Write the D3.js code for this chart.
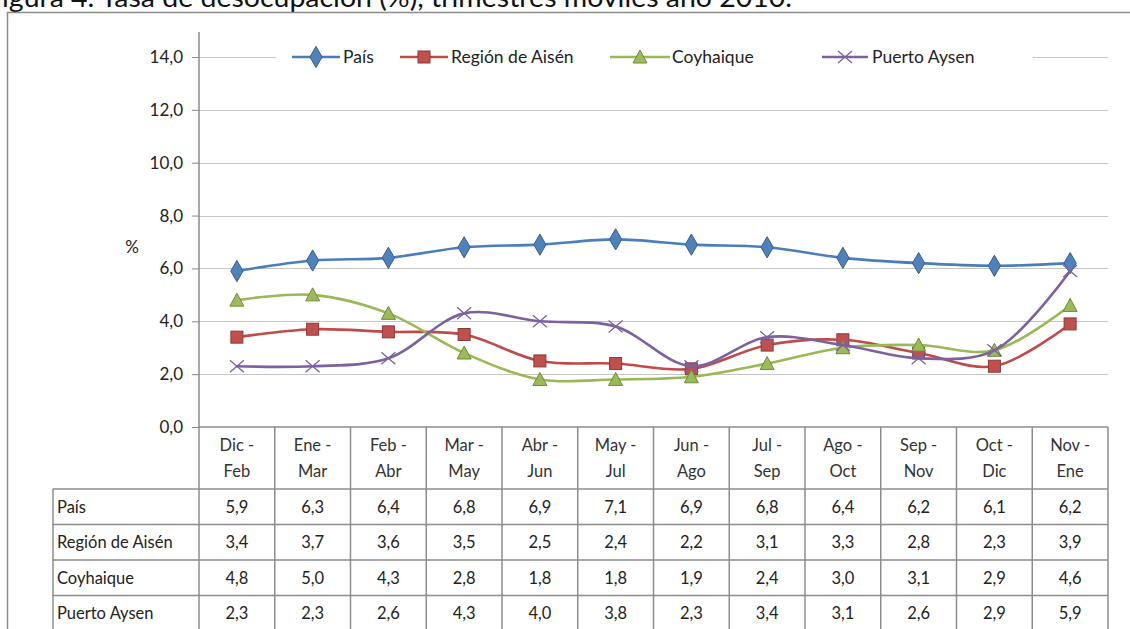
<!DOCTYPE html>
<html>
<head>
<meta charset="utf-8">
<script src="https://cdn.jsdelivr.net/npm/d3@7"></script>
<style>
  body { margin: 0; background: #fff; }
  svg { font-family: Lato, "Open Sans", sans-serif; }
</style>
</head>
<body>
<div id="chart"></div>
<script>
// Tasa de desocupacion, trimestres moviles 2010
var w = 1130, h = 629;

var categories = ["Dic - Feb", "Ene - Mar", "Feb - Abr", "Mar - May", "Abr - Jun", "May - Jul",
    "Jun - Ago", "Jul - Sep", "Ago - Oct", "Sep - Nov", "Oct - Dic", "Nov - Ene"];
var pais        = [5.9, 6.3, 6.4, 6.8, 6.9, 7.1, 6.9, 6.8, 6.4, 6.2, 6.1, 6.2];
var regionAisen = [3.4, 3.7, 3.6, 3.5, 2.5, 2.4, 2.2, 3.1, 3.3, 2.8, 2.3, 3.9];
var coyhaique   = [4.8, 5.0, 4.3, 2.8, 1.8, 1.8, 1.9, 2.4, 3.0, 3.1, 2.9, 4.6];
var puertoAysen = [2.3, 2.3, 2.6, 4.3, 4.0, 3.8, 2.3, 3.4, 3.1, 2.6, 2.9, 5.9];
var seriesNames = ["País", "Región de Aisén", "Coyhaique", "Puerto Aysen"];
var yTicks = [0, 2, 4, 6, 8, 10, 12, 14];

var series = [
  {name: seriesNames[0], values: pais,        color: "#4a7ebb", fill: "#4f81bd", edge: "#385d8a", marker: "diamond"},
  {name: seriesNames[1], values: regionAisen, color: "#be4b48", fill: "#c0504d", edge: "#8c3836", marker: "square"},
  {name: seriesNames[2], values: coyhaique,   color: "#98b954", fill: "#9bbb59", edge: "#71893f", marker: "triangle"},
  {name: seriesNames[3], values: puertoAysen, color: "#7d60a0", fill: "none",    edge: "#7d60a0", marker: "x"}
];

var es = d3.formatLocale({decimal: ",", thousands: ".", grouping: [3], currency: ["$", ""]});
var fmt = es.format(".1f");

var plotLeft = 199, plotRight = 1108, plotTop = 57, plotBottom = 427;
var rowH = 35.5, headerBottom = 489, tableLeft = 53;

var x = d3.scaleBand().domain(d3.range(categories.length)).range([plotLeft, plotRight]).padding(0);
var y = d3.scaleLinear().domain([0, 14]).range([plotBottom, plotTop]);

var svg = d3.select("#chart").append("svg").attr("width", w).attr("height", h);

// title, cut at the top like the scan
svg.append("text")
    .attr("x", -14).attr("y", 7)
    .attr("font-size", 26)
    .attr("textLength", 806)
    .attr("lengthAdjust", "spacingAndGlyphs")
    .attr("fill", "#111")
    .text("Figura 4. Tasa de desocupación (%), trimestres móviles año 2010.");

// outer frame
svg.append("path")
    .attr("d", "M7.5," + h + "V12.5H" + w)
    .attr("fill", "none")
    .attr("stroke", "#8c8c8c")
    .attr("stroke-width", 1.5);

// gridlines
svg.append("g").selectAll("line")
  .data(yTicks.filter(function(d) { return d > 0; }))
  .join("line")
    .attr("x1", plotLeft).attr("x2", plotRight)
    .attr("y1", function(d) { return Math.round(y(d)) + 0.5; })
    .attr("y2", function(d) { return Math.round(y(d)) + 0.5; })
    .attr("stroke", "#c6c6c6")
    .attr("stroke-width", 1.2);

// y axis
var yAxis = d3.axisLeft(y)
    .tickValues(yTicks)
    .tickSize(7)
    .tickPadding(9)
    .tickFormat(fmt);

var ga = svg.append("g")
    .attr("transform", "translate(" + plotLeft + ",0)")
    .call(yAxis);
ga.select(".domain").remove();
ga.selectAll("line").attr("stroke", "#8a8a8a");
ga.selectAll("text").attr("font-size", 17).attr("fill", "#222")
    .attr("font-family", "Lato, sans-serif");

svg.append("line")
    .attr("x1", plotLeft).attr("x2", plotLeft)
    .attr("y1", 32).attr("y2", plotBottom)
    .attr("stroke", "#8a8a8a").attr("stroke-width", 1.5);

svg.append("text")
    .attr("x", 132).attr("y", 253)
    .attr("text-anchor", "middle")
    .attr("font-size", 17)
    .attr("fill", "#222")
    .text("%");

// lines
var line = d3.line()
    .x(function(d, i) { return x(i) + x.bandwidth() / 2; })
    .y(function(d) { return y(d); })
    .curve(d3.curveCatmullRom.alpha(0.5));

function drawMarker(g, type, cx, cy, s) {
  if (type === "diamond") {
    g.append("path")
      .attr("d", d3.symbol(d3.symbolDiamond, 130)())
      .attr("transform", "translate(" + cx + "," + cy + ")")
      .attr("fill", s.fill).attr("stroke", s.edge).attr("stroke-width", 1);
  } else if (type === "square") {
    g.append("rect")
      .attr("x", cx - 6).attr("y", cy - 6).attr("width", 12).attr("height", 12)
      .attr("fill", s.fill).attr("stroke", s.edge).attr("stroke-width", 1);
  } else if (type === "triangle") {
    g.append("path")
      .attr("d", "M" + cx + "," + (cy - 7) + "L" + (cx + 7) + "," + (cy + 6) + "L" + (cx - 7) + "," + (cy + 6) + "Z")
      .attr("fill", s.fill).attr("stroke", s.edge).attr("stroke-width", 1);
  } else {
    g.append("path")
      .attr("d", "M" + (cx - 7) + "," + (cy - 6) + "L" + (cx + 7) + "," + (cy + 6) +
                 "M" + (cx - 7) + "," + (cy + 6) + "L" + (cx + 7) + "," + (cy - 6))
      .attr("fill", "none").attr("stroke", s.edge).attr("stroke-width", 1.3);
  }
}

var gs = svg.append("g");
series.forEach(function(s) {
  gs.append("path")
    .datum(s.values)
    .attr("fill", "none")
    .attr("stroke", s.color)
    .attr("stroke-width", 2.6)
    .attr("stroke-linejoin", "round")
    .attr("stroke-linecap", "round")
    .attr("d", line);
  s.values.forEach(function(v, i) {
    drawMarker(gs, s.marker, x(i) + x.bandwidth() / 2, y(v), s);
  });
});

// legend
var legendItems = [
  {x0: 292, x1: 340, tx: 343},
  {x0: 400, x1: 448, tx: 451},
  {x0: 610, x1: 670, tx: 672},
  {x0: 822, x1: 868, tx: 872}
];
var lg = svg.append("g");
lg.append("rect")
    .attr("x", 276).attr("y", 42).attr("width", 1033 - 276).attr("height", 30)
    .attr("fill", "#fff");
legendItems.forEach(function(p, i) {
  var s = series[i], ly = 57;
  lg.append("line")
    .attr("x1", p.x0).attr("x2", p.x1).attr("y1", ly).attr("y2", ly)
    .attr("stroke", s.color).attr("stroke-width", 2.6);
  drawMarker(lg, s.marker, (p.x0 + p.x1) / 2, ly, s);
  lg.append("text")
    .attr("x", p.tx).attr("y", ly)
    .attr("dy", "0.35em")
    .attr("font-size", 17.5)
    .attr("fill", "#222")
    .text(s.name);
});

// data table under the axis
var tg = svg.append("g").attr("stroke", "#8c8c8c").attr("stroke-width", 1.5);
var rows = series.length;
var tableBottom = headerBottom + rows * rowH;

tg.append("line").attr("x1", plotLeft).attr("x2", plotRight).attr("y1", plotBottom).attr("y2", plotBottom);
x.domain().concat([categories.length]).forEach(function(i) {
  var xx = i < categories.length ? x(i) : plotRight;
  tg.append("line").attr("x1", xx).attr("x2", xx).attr("y1", plotBottom).attr("y2", tableBottom);
});
tg.append("line").attr("x1", tableLeft).attr("x2", tableLeft).attr("y1", headerBottom).attr("y2", tableBottom);
d3.range(rows + 1).forEach(function(r) {
  var yy = headerBottom + r * rowH;
  tg.append("line").attr("x1", tableLeft).attr("x2", plotRight).attr("y1", yy).attr("y2", yy);
});

// category headers
var hg = svg.append("g").attr("font-size", 16.5).attr("fill", "#333").attr("text-anchor", "middle");
categories.forEach(function(c, i) {
  var parts = c.split(" - ");
  var cx = x(i) + x.bandwidth() / 2;
  hg.append("text").attr("x", cx).attr("y", 451).text(parts[0] + " -");
  hg.append("text").attr("x", cx).attr("y", 477).text(parts[1]);
});

// row labels and values
var vg = svg.append("g").attr("font-size", 16.5).attr("fill", "#222");
series.forEach(function(s, r) {
  var cy = headerBottom + r * rowH + rowH / 2;
  vg.append("text")
    .attr("x", 57).attr("y", cy).attr("dy", "0.35em")
    .text(s.name);
  s.values.forEach(function(v, i) {
    vg.append("text")
      .attr("x", x(i) + x.bandwidth() / 2).attr("y", cy).attr("dy", "0.35em")
      .attr("text-anchor", "middle")
      .text(fmt(v));
  });
});
</script>
</body>
</html>
